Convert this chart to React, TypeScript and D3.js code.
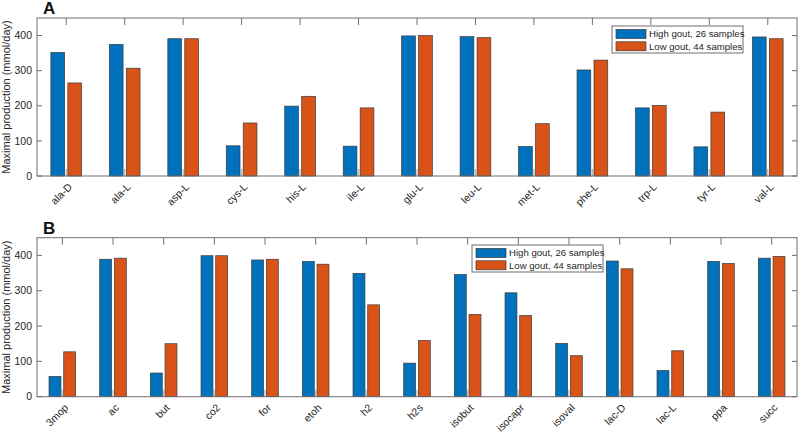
import React from "react";
import * as d3 from "d3";

const aminoCats = ["ala-D", "ala-L", "asp-L", "cys-L", "his-L", "ile-L", "glu-L", "leu-L", "met-L", "phe-L", "trp-L", "tyr-L", "val-L"];
const aminoHigh = [352, 375, 391, 86, 199, 85, 399, 397, 84, 302, 194, 83, 396];
const aminoLow = [265, 307, 391, 151, 227, 194, 400, 394, 149, 330, 201, 182, 391];

const metabCats = ["3mop", "ac", "but", "co2", "for", "etoh", "h2", "h2s", "isobut", "isocapr", "isoval", "lac-D", "lac-L", "ppa", "succ"];
const metabHigh = [57, 389, 67, 399, 387, 383, 349, 95, 346, 294, 151, 384, 74, 383, 392];
const metabLow = [127, 392, 150, 399, 389, 375, 260, 159, 233, 230, 116, 362, 130, 377, 397];

const yTicks = [0, 100, 200, 300, 400];
const seriesNames = ["High gout, 26 samples", "Low gout, 44 samples"];
const colors = ["#0072BD", "#D95319"];

const FONT = "'Liberation Sans', Arial, sans-serif";
const AXIS = "#6e6e6e";

type PanelProps = {
  label: string;
  cats: string[];
  high: number[];
  low: number[];
  top: number;
  bottom: number;
  legendX: number;
  legendY: number;
};

function Panel({ label, cats, high, low, top, bottom, legendX, legendY }: PanelProps) {
  const left = 37;
  const right = 797;
  const x = d3.scaleLinear().domain([0.5, cats.length + 0.5]).range([left, right]);
  const y = d3.scaleLinear().domain([0, 450]).range([bottom, top]);
  const unit = x(2) - x(1);
  const barW = unit * 0.235;
  const offs = [-0.145, 0.145];
  const series = [high, low];

  return (
    <g>
      <text x={43} y={top - 4} fontFamily={FONT} fontWeight="bold" fontSize={17} fill="#111">
        {label}
      </text>
      {/* bottom ticks, light */}
      {cats.map((c, i) => (
        <line key={"bt" + c} x1={x(i + 1)} x2={x(i + 1)} y1={bottom} y2={bottom - 7} stroke="#b5b5b5" strokeWidth={1.2} />
      ))}
      {series.map((vals, s) =>
        vals.map((v, i) => (
          <rect
            key={s + "-" + i}
            x={x(i + 1) + offs[s] * unit - barW / 2}
            y={y(v)}
            width={barW}
            height={y(0) - y(v)}
            fill={colors[s]}
            stroke="#3a3a3a"
            strokeWidth={0.7}
          />
        ))
      )}
      <rect x={left} y={top} width={right - left} height={bottom - top} fill="none" stroke={AXIS} strokeWidth={1} />
      {cats.map((c, i) => (
        <line key={"tt" + c} x1={x(i + 1)} x2={x(i + 1)} y1={top} y2={top + 7} stroke={AXIS} strokeWidth={1} />
      ))}
      {yTicks.map((t) => (
        <g key={"yt" + t}>
          <line x1={left} x2={left + 5} y1={y(t)} y2={y(t)} stroke={AXIS} />
          <line x1={right} x2={right - 5} y1={y(t)} y2={y(t)} stroke={AXIS} />
          <text x={left - 5} y={y(t)} dy="0.35em" textAnchor="end" fontFamily={FONT} fontSize={10.5} fill="#262626">
            {t}
          </text>
        </g>
      ))}
      {cats.map((c, i) => (
        <text
          key={"xl" + c}
          transform={`translate(${x(i + 1) + 4},${bottom + 9}) rotate(-45)`}
          textAnchor="end"
          dy="0.35em"
          fontFamily={FONT}
          fontSize={10.5}
          fill="#262626"
        >
          {c}
        </text>
      ))}
      <text
        transform={`translate(10,${(top + bottom) / 2}) rotate(-90)`}
        textAnchor="middle"
        fontFamily={FONT}
        fontSize={11}
        fill="#262626"
      >
        Maximal production (mmol/day)
      </text>
      <g transform={`translate(${legendX},${legendY})`}>
        <rect x={0} y={0} width={131} height={27} fill="#fff" stroke={AXIS} strokeWidth={1} />
        {seriesNames.map((n, s) => (
          <g key={n}>
            <rect x={4} y={3.5 + s * 12.3} width={30} height={9} fill={colors[s]} stroke="#3a3a3a" strokeWidth={0.7} />
            <text x={37} y={8 + s * 12.3} dy="0.35em" fontFamily={FONT} fontSize={9.6} fill="#262626">
              {n}
            </text>
          </g>
        ))}
      </g>
    </g>
  );
}

export default function App() {
  return (
    <svg width={800} height={434} style={{ position: "absolute", left: 0, top: 0, background: "#fff" }}>
      <rect width={800} height={434} fill="#fff" />
      <Panel label="A" cats={aminoCats} high={aminoHigh} low={aminoLow} top={18} bottom={176} legendX={612} legendY={26} />
      <Panel label="B" cats={metabCats} high={metabHigh} low={metabLow} top={237.7} bottom={396.7} legendX={472} legendY={245} />
    </svg>
  );
}
